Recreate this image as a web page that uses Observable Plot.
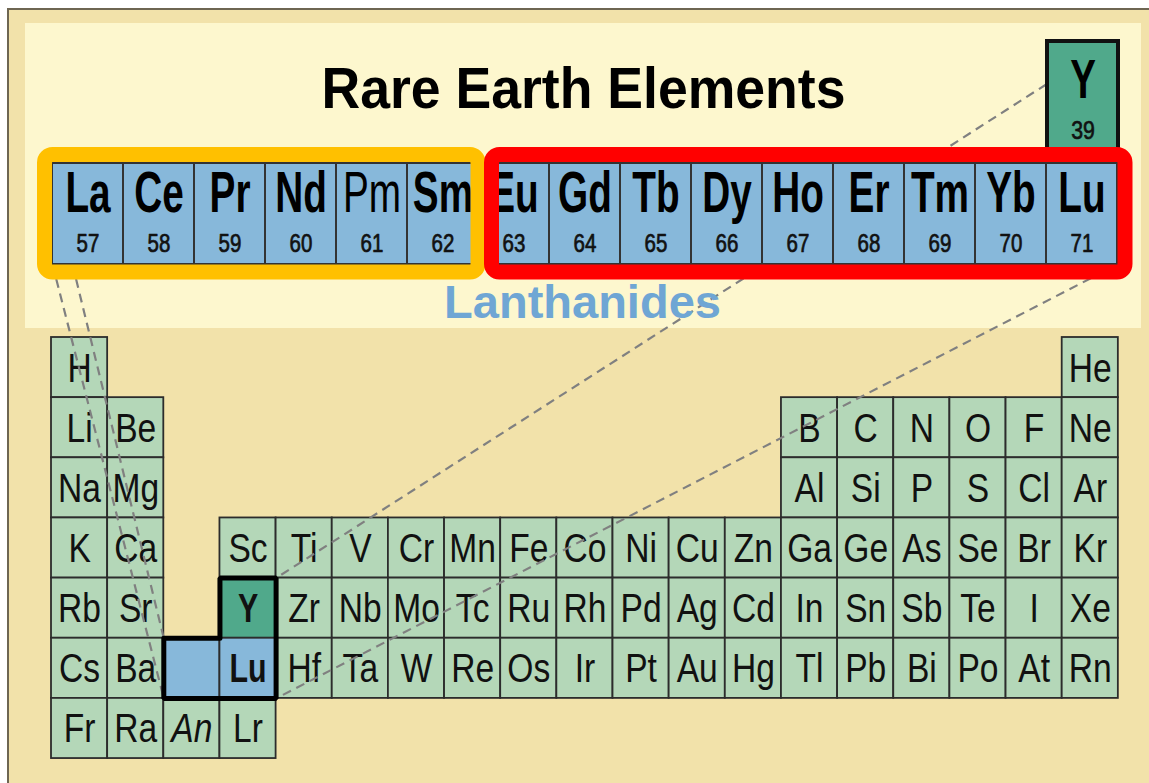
<!DOCTYPE html>
<html><head><meta charset="utf-8">
<script src="https://cdn.jsdelivr.net/npm/d3@7"></script>
<script src="https://cdn.jsdelivr.net/npm/@observablehq/plot@0.6"></script>
<style>
body{margin:0;background:#fff;}
#wrap{position:relative;width:1149px;height:783px;overflow:hidden;}
#frame{position:absolute;left:7px;top:8px;right:0;bottom:0;background:#f2e2aa;border-left:2.5px solid #6e6652;border-top:2.5px solid #6e6652;}
#panel{position:absolute;left:25px;top:23px;width:1116px;height:305px;background:#fdf7ce;}
#chart{position:absolute;left:0;top:0;}
</style></head><body>
<div id="wrap"><div id="frame"></div><div id="panel"></div><div id="chart"></div></div>
<script>
// ---------- data ----------
const title = "Rare Earth Elements";
const groupLabel = "Lanthanides";
const lanthanideSymbols = ["La","Ce","Pr","Nd","Pm","Sm","Eu","Gd","Tb","Dy","Ho","Er","Tm","Yb","Lu"];
const lanthanideNumbers = [57,58,59,60,61,62,63,64,65,66,67,68,69,70,71];
const lightRareEarths = ["La","Ce","Pr","Nd","Pm","Sm"];
const heavyRareEarths = ["Eu","Gd","Tb","Dy","Ho","Er","Tm","Yb","Lu"];
const regularWeightSymbols = ["Pm"];
const yttriumSymbol = "Y";
const yttriumNumber = 39;
const periodRows = [
  "H _ _ _ _ _ _ _ _ _ _ _ _ _ _ _ _ _ He",
  "Li Be _ _ _ _ _ _ _ _ _ _ _ B C N O F Ne",
  "Na Mg _ _ _ _ _ _ _ _ _ _ _ Al Si P S Cl Ar",
  "K Ca _ Sc Ti V Cr Mn Fe Co Ni Cu Zn Ga Ge As Se Br Kr",
  "Rb Sr _ Y Zr Nb Mo Tc Ru Rh Pd Ag Cd In Sn Sb Te I Xe",
  "Cs Ba * Lu Hf Ta W Re Os Ir Pt Au Hg Tl Pb Bi Po At Rn",
  "Fr Ra An Lr"
];
const lanthanidePlaceholder = "*";
const actinidePlaceholder = "An";

// ---------- layout ----------
const W = 1149, H = 783;
const T = {x0: 51, cw: 56.15, y0: 337, rh: 60.15};     // main table grid
const L = {x0: 52, cw: 71, y0: 163, h: 101};           // lanthanide strip
const C = {green: "#b4d7b8", blue: "#87b8da", teal: "#50a98b", line: "#2c2c2c",
           yellow: "#ffc000", red: "#ff0000", dash: "#808080", label: "#6fa6d4"};
const SANS = "'Liberation Sans',Arial,Helvetica,sans-serif";

const tx = c => T.x0 + c * T.cw;
const ty = r => T.y0 + r * T.rh;
const lx = i => L.x0 + i * L.cw;

const cells = [];
periodRows.forEach((row, r) => row.split(" ").forEach((s, c) => {
  if (s === "_") return;
  const kind = s === yttriumSymbol ? "teal" : (s === "Lu" || s === lanthanidePlaceholder) ? "blue" : "green";
  cells.push({symbol: s === lanthanidePlaceholder ? "" : s, row: r, col: c, kind});
}));
const boldLower = cells.filter(d => d.symbol === yttriumSymbol || d.symbol === "Lu");
const italicLower = cells.filter(d => d.symbol === actinidePlaceholder);
const plainLower = cells.filter(d => d.symbol && !boldLower.includes(d) && !italicLower.includes(d));

const lan = lanthanideSymbols.map((s, i) => ({symbol: s, number: lanthanideNumbers[i], i}));
const lanBold = lan.filter(d => !regularWeightSymbols.includes(d.symbol));
const lanReg = lan.filter(d => regularWeightSymbols.includes(d.symbol));

const cellOf = s => cells.find(d => d.symbol === s);
const place = cells.find(d => d.kind === "blue" && d.symbol === "");
const yCell = cellOf(yttriumSymbol), luCell = cellOf("Lu");
const luIdx = lanthanideSymbols.indexOf("Lu");

// yttrium box above Lu in the strip
const yBox = {x1: lx(luIdx) + 1, x2: lx(luIdx + 1) + 1, y1: 41, y2: L.y0};

// thick outline around Y, placeholder and Lu in the table
const outline = [
  [tx(place.col), ty(place.row)], [tx(yCell.col), ty(place.row)], [tx(yCell.col), ty(yCell.row)],
  [tx(yCell.col + 1), ty(yCell.row)], [tx(yCell.col + 1), ty(luCell.row + 1)],
  [tx(place.col), ty(place.row + 1)], [tx(place.col), ty(place.row)], [tx(yCell.col), ty(place.row)]
].map(([x, y]) => ({x, y}));

// dashed connectors
const links = [
  {x1: yBox.x1 - 1, y1: yBox.y1 + (yBox.y2 - yBox.y1) * 0.35, x2: tx(yCell.col + 1), y2: ty(yCell.row)},
  {x1: lx(luIdx + 1), y1: L.y0 + L.h, x2: tx(luCell.col + 1), y2: ty(luCell.row + 1)},
  {x1: lx(0), y1: L.y0 + L.h, x2: tx(place.col), y2: ty(place.row + 1)},
  {x1: lx(0) + 20, y1: L.y0 + L.h, x2: tx(place.col), y2: ty(place.row)}
];

// group frames
const groups = [
  {members: lightRareEarths, color: C.yellow, padL: -7.5, padR: 0},
  {members: heavyRareEarths, color: C.red, padL: 13.5, padR: 8}
].map(g => {
  const a = lanthanideSymbols.indexOf(g.members[0]);
  const b = lanthanideSymbols.indexOf(g.members[g.members.length - 1]);
  return {color: g.color, x1: lx(a) + g.padL, x2: lx(b + 1) + g.padR, y1: L.y0 - 8.5, y2: L.y0 + L.h + 8};
});

const chart = Plot.plot({
  width: W, height: H, margin: 0,
  x: {domain: [0, W], range: [0, W], axis: null},
  y: {domain: [0, H], range: [0, H], axis: null},
  style: {background: "transparent", overflow: "visible"},
  marks: [
    // main table cells
    Plot.rect(cells, {x1: d => tx(d.col), x2: d => tx(d.col + 1), y1: d => ty(d.row), y2: d => ty(d.row + 1),
      fill: d => C[d.kind], stroke: C.line, strokeWidth: 1.8}),
    Plot.text(plainLower, {x: d => tx(d.col + 0.5), y: d => ty(d.row) + 44, text: "symbol", className: "sq84",
      fontFamily: SANS, fontSize: 40, lineAnchor: "bottom", fill: "#111"}),
    Plot.text(italicLower, {x: d => tx(d.col + 0.5), y: d => ty(d.row) + 44, text: "symbol", className: "sq84",
      fontFamily: SANS, fontSize: 40, fontStyle: "italic", lineAnchor: "bottom", fill: "#111"}),
    Plot.text(boldLower, {x: d => tx(d.col + 0.5), y: d => ty(d.row) + 44, text: "symbol", className: "sq76",
      fontFamily: SANS, fontSize: 40, fontWeight: "bold", lineAnchor: "bottom", fill: "#111"}),
    // dashed connectors
    Plot.link(links, {x1: "x1", y1: "y1", x2: "x2", y2: "y2", stroke: C.dash, strokeWidth: 2.2, strokeDasharray: "9,6"}),
    // highlight outline
    Plot.line(outline, {x: "x", y: "y", stroke: "#000", strokeWidth: 5, strokeLinejoin: "miter"}),
    // yttrium box
    Plot.rect([yBox], {x1: "x1", x2: "x2", y1: "y1", y2: "y2", fill: C.teal, stroke: "#111", strokeWidth: 4}),
    Plot.text([yBox], {x: d => (d.x1 + d.x2) / 2, y: d => 97, text: () => yttriumSymbol, className: "sq70",
      fontFamily: SANS, fontSize: 55, fontWeight: "bold", lineAnchor: "bottom", fill: "#000"}),
    Plot.text([yBox], {x: d => (d.x1 + d.x2) / 2, y: d => 138, text: () => String(yttriumNumber), className: "sq82",
      fontFamily: SANS, fontSize: 26, lineAnchor: "bottom", fill: "#111", stroke: "#111", strokeWidth: 0.7}),
    // lanthanide strip
    Plot.rect(lan, {x1: d => lx(d.i), x2: d => lx(d.i + 1), y1: L.y0, y2: L.y0 + L.h,
      fill: C.blue, stroke: "#333", strokeWidth: 2}),
    Plot.text(lanBold, {x: d => lx(d.i + 0.5), y: L.y0 + 48, text: "symbol", className: "sq68",
      fontFamily: SANS, fontSize: 57, fontWeight: "bold", lineAnchor: "bottom", fill: "#000"}),
    Plot.text(lanReg, {x: d => lx(d.i + 0.5), y: L.y0 + 48, text: "symbol", className: "sq68",
      fontFamily: SANS, fontSize: 57, lineAnchor: "bottom", fill: "#000"}),
    Plot.text(lan, {x: d => lx(d.i + 0.5), y: L.y0 + 88, text: d => String(d.number), className: "sq82",
      fontFamily: SANS, fontSize: 25, lineAnchor: "bottom", fill: "#111", stroke: "#111", strokeWidth: 0.7}),
    // group frames
    Plot.rect(groups, {x1: "x1", x2: "x2", y1: "y1", y2: "y2", fill: "none", stroke: "color", strokeWidth: 15, rx: 8}),
    // titles
    Plot.text([title], {x: () => 583, y: () => 107, text: d => d, className: "sq94",
      fontFamily: SANS, fontSize: 57, fontWeight: "bold", lineAnchor: "bottom", fill: "#000"}),
    Plot.text([groupLabel], {x: () => 582, y: () => 317, text: d => d,
      fontFamily: SANS, fontSize: 47, fontWeight: "bold", lineAnchor: "bottom", fill: C.label})
  ]
});
document.getElementById("chart").appendChild(chart);

// horizontal condensing of selected text marks (condensed type face)
function squeeze(sel, k) {
  sel.each(function () {
    const t = d3.select(this);
    const tr = t.attr("transform");
    if (tr) t.attr("transform", tr + ` scale(${k},1)`);
    else {
      const x = +t.attr("x") || 0, y = +t.attr("y") || 0;
      t.attr("x", null).attr("y", null).attr("transform", `translate(${x},${y}) scale(${k},1)`);
    }
  });
}
[["sq68", 0.68], ["sq70", 0.70], ["sq76", 0.76], ["sq82", 0.82], ["sq84", 0.84], ["sq94", 0.94]]
  .forEach(([cls, k]) => squeeze(d3.select(chart).selectAll(`.${cls} text`), k));
</script>
</body></html>
